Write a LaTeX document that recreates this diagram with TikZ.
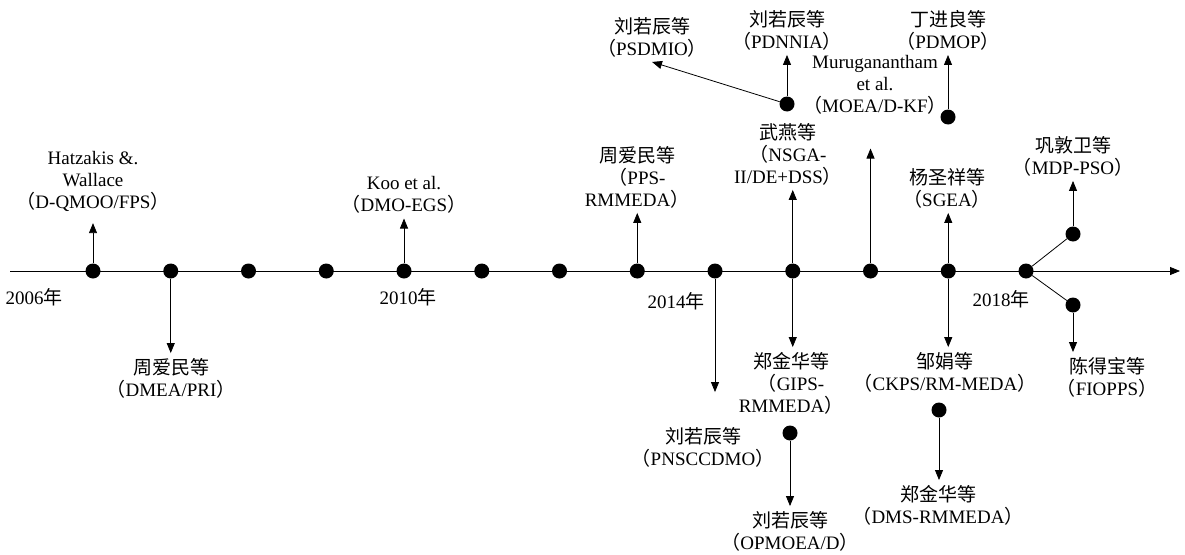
\documentclass[tikz,border=0pt]{standalone}
\usepackage{fontspec}
\setmainfont{Liberation Serif}
\newfontfamily\cjk{Noto Sans CJK SC}
\usetikzlibrary{arrows.meta}
\newcommand\zh[1]{{\cjk #1}}
\newcommand\alg[1]{\zh{（}#1\zh{）}}
\tikzset{
  dot/.style={circle, fill=black, inner sep=0pt, minimum size=15pt},
  lab/.style={align=center, font=\fontsize{19}{22}\selectfont, inner sep=2pt, outer sep=3pt},
  yr/.style={font=\fontsize{19}{22}\selectfont, inner sep=0pt},
  arr/.style={-{Triangle[length=10pt,width=8pt]}, line width=0.8pt},
  ln/.style={line width=0.8pt},
}
\begin{document}
\begin{tikzpicture}[x=1pt,y=-1pt]
  \useasboundingbox (0,0) rectangle (1185,554);
  % time axis
  \coordinate (ax0) at (10,271);
  \coordinate (ax1) at (1180,271);
  \draw[arr] (ax0) -- (ax1);
  \foreach \i in {0,...,12} \node[dot] (d\i) at ({93+77.75*\i},271) {};
  \node[yr] (y06) at (34,297) {2006\zh{年}};
  \node[yr] (y10) at (408,297) {2010\zh{年}};
  \node[yr] (y14) at (676,301) {2014\zh{年}};
  \node[yr] (y18) at (1001,299) {2018\zh{年}};
  % off-axis points
  \node[dot] (e1) at (790,433) {};
  \node[dot] (e2) at (787,104) {};
  \node[dot] (e3) at (948,117) {};
  \node[dot] (e4) at (939,410) {};
  \node[dot] (e5) at (1073,234) {};
  \node[dot] (e6) at (1073,305) {};
  % labels
  \node[lab] (qmoo) at (93,181) {Hatzakis \&.\\Wallace\\\alg{D-QMOO/FPS}};
  \node[lab] (dmea) at (171,378) {\zh{周爱民等}\\\alg{DMEA/PRI}};
  \node[lab] (egs) at (404,195) {Koo et al.\\\alg{DMO-EGS}};
  \node[lab] (pps) at (637,177) {\zh{周爱民等}\\\alg{PPS-\\RMMEDA}};
  \node[lab] (pnscc) at (703,447) {\zh{刘若辰等}\\\alg{PNSCCDMO}};
  \node[lab] (dss) at (788,154) {\zh{武燕等}\\\zh{（}NSGA-\\II/DE+DSS\zh{）}};
  \node[lab] (gips) at (791,383) {\zh{郑金华等}\\\zh{（}GIPS-\\RMMEDA\zh{）}};
  \node[lab] (opmoea) at (790,531) {\zh{刘若辰等}\\\alg{OPMOEA/D}};
  \node[lab] (pdnnia) at (787,30) {\zh{刘若辰等}\\\alg{PDNNIA}};
  \node[lab] (psdmio) at (652,37) {\zh{刘若辰等}\\\alg{PSDMIO}};
  \node[lab] (kf) at (875,85) {Muruganantham\\et al.\\\alg{MOEA/D-KF}};
  \node[lab] (pdmop) at (948,30) {\zh{丁进良等}\\\alg{PDMOP}};
  \node[lab] (sgea) at (947,188) {\zh{杨圣祥等}\\\alg{SGEA}};
  \node[lab] (ckps) at (945,372) {\zh{邹娟等}\\\alg{CKPS/RM-MEDA}};
  \node[lab] (dms) at (938,505) {\zh{郑金华等}\\\alg{DMS-RMMEDA}};
  \node[lab] (mdp) at (1073,156) {\zh{巩敦卫等}\\\alg{MDP-PSO}};
  \node[lab] (fiopps) at (1107,377) {\zh{陈得宝等}\\\alg{FIOPPS}};
  % connectors
  \draw[arr, shorten >=7pt] (d0) -- (d0 |- qmoo.south);
  \draw[arr] (d1) -- (d1 |- dmea.north);
  \draw[arr] (d4) -- (d4 |- egs.south);
  \draw[arr] (d7) -- (d7 |- pps.south);
  \draw[arr, shorten >=30pt] (d8) -- (d8 |- pnscc.north);
  \draw[arr] (d9) -- (d9 |- dss.south);
  \draw[arr] (d9) -- (d9 |- gips.north);
  \draw[arr] (e1) -- (e1 |- opmoea.north);
  \draw[arr] (e2) -- (e2 |- pdnnia.south);
  \draw[arr] (e2) -- (psdmio.south);
  \draw[arr, shorten >=29pt] (d10) -- (d10 |- kf.south);
  \draw[arr] (e3) -- (e3 |- pdmop.south);
  \draw[arr] (d11) -- (d11 |- sgea.south);
  \draw[arr] (d11) -- (d11 |- ckps.north);
  \draw[arr] (e4) -- (e4 |- dms.north);
  \draw[ln] (d12) -- (e5);
  \draw[ln] (d12) -- (e6);
  \draw[arr] (e5) -- (e5 |- mdp.south);
  \draw[arr] (e6) -- (e6 |- fiopps.north);
\end{tikzpicture}
\end{document}
